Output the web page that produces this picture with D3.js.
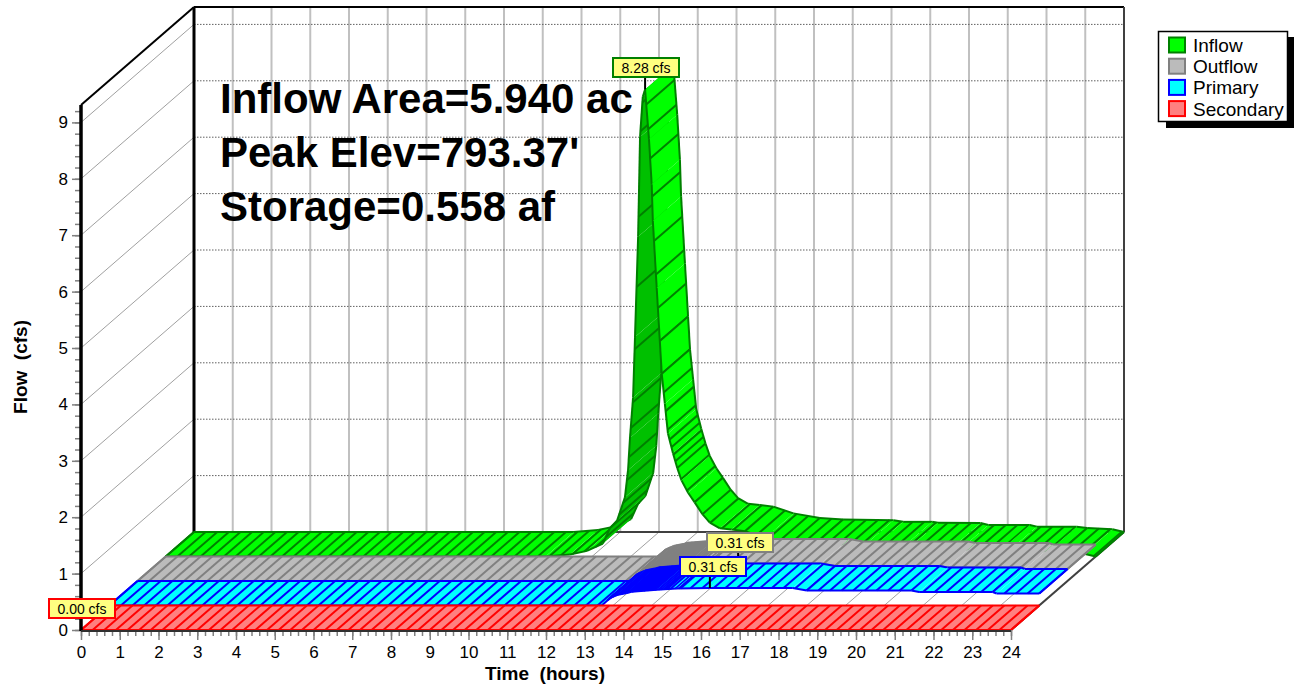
<!DOCTYPE html>
<html>
<head>
<meta charset="utf-8">
<script src="https://cdn.jsdelivr.net/npm/d3@7"></script>
<style>
  body { margin: 0; background: #fff; }
  text { font-family: "Liberation Sans", Arial, sans-serif; white-space: pre; }
</style>
</head>
<body>
<svg id="chart" width="1294" height="686"></svg>
<script>
// flow data, time in hours and flow in cfs
const inflowTime = [0, 9.8, 10.43, 10.87, 11.28, 11.46, 11.65, 11.85, 11.93, 11.98, 12.06, 12.11, 12.19, 12.24, 12.31, 12.37, 12.47, 12.54, 12.57, 12.67, 12.75, 12.8, 12.88, 12.96, 13.09, 13.2, 13.31, 13.48, 13.65, 13.85, 14.04, 14.3, 14.6, 14.95, 15.47, 16.15, 16.75, 18.05, 18.3, 19.05, 19.2, 20.3, 20.5, 21.57, 21.75, 22.78, 23.05, 23.7, 24];
const inflowFlow = [0, 0, 0.035, 0.1, 0.23, 0.5, 0.64, 1.05, 1.53, 2.1, 2.82, 3.89, 5.67, 7.44, 8.15, 8.28, 7.4, 6.6, 5.95, 4.76, 3.82, 3.24, 2.71, 2.18, 1.83, 1.57, 1.35, 1.13, 0.96, 0.75, 0.6, 0.5, 0.48, 0.45, 0.33, 0.25, 0.22, 0.21, 0.18, 0.18, 0.165, 0.16, 0.125, 0.125, 0.095, 0.095, 0.07, 0.05, 0];
const outflowTime = [0, 12.71, 12.92, 13.1, 13.35, 13.48, 14.13, 14.64, 15.5, 17.64, 18, 20.7, 20.9, 22.8, 22.9, 24];
const outflowFlow = [0, 0, 0.13, 0.185, 0.22, 0.245, 0.28, 0.3, 0.31, 0.31, 0.265, 0.265, 0.24, 0.24, 0.213, 0.213];
const primaryTime = [0, 12.71, 12.92, 13.1, 13.35, 13.48, 14.13, 14.64, 15.5, 17.64, 18, 20.7, 20.9, 22.8, 22.9, 24];
const primaryFlow = [0, 0, 0.13, 0.185, 0.22, 0.245, 0.28, 0.3, 0.31, 0.31, 0.265, 0.265, 0.24, 0.24, 0.213, 0.213];
const secondaryTime = [0, 24];
const secondaryFlow = [0, 0];

const seriesNames = ["Inflow", "Outflow", "Primary", "Secondary"];
const seriesFill = ["#00ff00", "#bbbbbb", "#00ffff", "#ff8080"];
const seriesDark = ["#00c000", "#8c8c8c", "#00c0c0", "#c06060"];
const seriesLine = ["#008000", "#808080", "#0000ff", "#ff0000"];
const peakLabels = ["8.28 cfs", "0.31 cfs", "0.31 cfs", "0.00 cfs"];
const peakTimes = [12.37, 15.5, 15.5, 0];
const peakFlows = [8.28, 0.31, 0.31, 0];
const noteLines = ["Inflow Area=5.940 ac", "Peak Elev=793.37'", "Storage=0.558 af"];

const hourTicks = d3.range(0, 25);
const flowTicks = d3.range(0, 10);

const svg = d3.select("#chart");
const x = d3.scaleLinear().domain([0, 24]).range([81, 1011]);
const y = d3.scaleLinear().domain([0, 9]).range([630, 122.4]);
const yTop = 9.31;
// depth goes from 0 at the front wall to 4 at the back wall, one unit per series
const depthX = d3.scaleLinear().domain([0, 4]).range([0, 113]);
const depthY = d3.scaleLinear().domain([0, 4]).range([0, -98]);
const px = (t, d) => x(t) + depthX(d);
const py = (v, d) => y(v) + depthY(d);

function line(g, x1, y1, x2, y2, stroke, w, dash) {
  return g.append("line")
    .attr("x1", x1).attr("y1", y1).attr("x2", x2).attr("y2", y2)
    .attr("stroke", stroke).attr("stroke-width", w)
    .attr("stroke-dasharray", dash || null);
}

// walls and floor
const grid = svg.append("g");
hourTicks.slice(1).forEach((h) => {
  line(grid, px(h, 4), py(yTop, 4), px(h, 4), py(0, 4), "#c0c0c0", 2);
  line(grid, px(h, 0), py(0, 0), px(h, 4), py(0, 4), "#a0a0a0", 1);
});
line(grid, px(0, 0), py(0, 0), px(0, 4), py(0, 4), "#a0a0a0", 1);
flowTicks.slice(1).forEach((f) => {
  line(grid, px(0, 4), py(f, 4), px(24, 4), py(f, 4), "#606060", 1, "1.5 1.5");
  line(grid, px(0, 0), py(f, 0), px(0, 4), py(f, 4), "#a0a0a0", 1);
});
line(grid, px(0, 0), py(yTop, 0), px(0, 4), py(yTop, 4), "#000", 2);
line(grid, px(0, 4), py(yTop, 4), px(24, 4), py(yTop, 4), "#000", 2);
line(grid, px(0, 4), py(yTop, 4), px(0, 4), py(0, 4), "#000", 3);
line(grid, px(24, 4), py(yTop, 4), px(24, 4), py(0, 4), "#404040", 2);
line(grid, px(0, 4), py(0, 4), px(24, 4), py(0, 4), "#404040", 2);
line(grid, px(24, 0), py(0, 0), px(24, 4), py(0, 4), "#404040", 2);

// one ribbon per series, painted back to front and left to right
function drawRibbon(i, times, flows, dense) {
  const front = 3 - i;
  const back = 4 - i;
  const g = svg.append("g");
  const flowAt = d3.scaleLinear().domain(times).range(flows);

  // hatch every 0.3 hr on the flat, every time step where the curve is steep
  const hatchTimes = [];
  let run = 0;
  let prev = [px(0, front), py(0, front)];
  d3.range(0, 24.001, 0.05).forEach((t, k) => {
    const p = [px(t, front), py(flowAt(t), front)];
    const step = Math.hypot(p[0] - prev[0], p[1] - prev[1]);
    run += step;
    prev = p;
    if (k === 0 || run >= 11.5 || step >= 6.5) {
      hatchTimes.push(t);
      run = 0;
    }
  });
  if (dense) dense.forEach((t) => hatchTimes.push(t));

  times.slice(1).forEach((t2, k) => {
    const t1 = times[k];
    const a = [px(t1, front), py(flows[k], front)];
    const b = [px(t2, front), py(flows[k + 1], front)];
    const c = [px(t2, back), py(flows[k + 1], back)];
    const e = [px(t1, back), py(flows[k], back)];
    const dx = b[0] - a[0];
    const dy = b[1] - a[1];
    const under = dx * depthY(1) - dy * depthX(1) > 0;
    g.append("polygon")
      .attr("points", [a, b, c, e].join(" "))
      .attr("fill", under ? seriesDark[i] : seriesFill[i])
      .attr("stroke", "none");
    hatchTimes.filter((h) => h >= t1 && h <= t2).forEach((h) => {
      const v = flowAt(h);
      line(g, px(h, front), py(v, front), px(h, back), py(v, back), seriesLine[i], 2);
    });
    line(g, a[0], a[1], b[0], b[1], seriesLine[i], 2);
    line(g, e[0], e[1], c[0], c[1], seriesLine[i], 2);
  });
  // end caps
  const n = times.length - 1;
  line(g, px(times[0], front), py(flows[0], front), px(times[0], back), py(flows[0], back), seriesLine[i], 2);
  line(g, px(times[n], front), py(flows[n], front), px(times[n], back), py(flows[n], back), seriesLine[i], 2);
}

// the rising limb of the routed flow is nearly solid with hatching
const denseHatch = d3.range(12.85, 14.1, 0.035)
  .concat(d3.range(14.1, 14.35, 0.07))
  .concat(d3.range(14.35, 14.75, 0.13));

drawRibbon(0, inflowTime, inflowFlow);
drawRibbon(1, outflowTime, outflowFlow, denseHatch);
drawRibbon(2, primaryTime, primaryFlow, denseHatch);
drawRibbon(3, secondaryTime, secondaryFlow);

// axes
const xMinor = svg.append("g").attr("transform", "translate(0,630)")
  .call(d3.axisBottom(x).tickValues(d3.range(0, 24.01, 0.2)).tickSize(6).tickFormat(""));
const xMajor = svg.append("g").attr("transform", "translate(0,630)")
  .call(d3.axisBottom(x).tickValues(hourTicks).tickSize(10).tickPadding(6).tickFormat(d3.format("d")));
const yMinor = svg.append("g").attr("transform", "translate(81,0)")
  .call(d3.axisLeft(y).tickValues(d3.range(0, yTop, 0.2)).tickSize(6).tickFormat(""));
const yMajor = svg.append("g").attr("transform", "translate(81,0)")
  .call(d3.axisLeft(y).tickValues(flowTicks).tickSize(9).tickPadding(4).tickFormat(d3.format("d")));
[xMinor, xMajor, yMinor, yMajor].forEach((a) => {
  a.selectAll(".domain").remove();
  a.selectAll(".tick line").attr("stroke", "#808080").attr("stroke-width", 1.5);
  a.selectAll("text").attr("font-size", 17).attr("fill", "#000")
    .style("font-family", '"Liberation Sans", Arial, sans-serif');
});
line(svg, 81, py(yTop, 0), 81, 631, "#000", 3.5);
line(svg, 81, 631, 1011, 631, "#303030", 2);

svg.append("text").attr("x", 545).attr("y", 680).attr("text-anchor", "middle")
  .attr("font-size", 19).attr("font-weight", "bold").text("Time  (hours)");
svg.append("text").attr("transform", "translate(27,367) rotate(-90)").attr("text-anchor", "middle")
  .attr("font-size", 19).attr("font-weight", "bold").text("Flow  (cfs)");

// notes on the back wall
noteLines.forEach((t, i) => {
  svg.append("text").attr("x", 220).attr("y", 113 + i * 54)
    .attr("font-size", 42).attr("font-weight", "bold").text(t);
});

// peak labels with their stems
const labelBoxes = [[612, 57], [706, 532], [679, 556], [48, 598]];
peakLabels.forEach((label, i) => {
  const d = 3 - i;
  const [bx, by] = labelBoxes[i];
  if (i < 3) {
    const sx = px(peakTimes[i], d);
    line(svg, sx, by + 10, sx, py(peakFlows[i], d), "#000", 2);
  }
  svg.append("rect").attr("x", bx + 1).attr("y", by + 1).attr("width", 66).attr("height", 19)
    .attr("fill", "#ffff80").attr("stroke", seriesLine[i]).attr("stroke-width", 2);
  svg.append("text").attr("x", bx + 34).attr("y", by + 15.5).attr("text-anchor", "middle")
    .attr("font-size", 14).attr("fill", "#000").text(label);
});

// legend
const legend = svg.append("g");
legend.append("rect").attr("x", 1166).attr("y", 37).attr("width", 128).attr("height", 91).attr("fill", "#000");
legend.append("rect").attr("x", 1158.5).attr("y", 31.5).attr("width", 129).attr("height", 90)
  .attr("fill", "#fff").attr("stroke", "#000").attr("stroke-width", 1.5);
seriesNames.forEach((name, i) => {
  const ly = 37.5 + i * 21.2;
  legend.append("rect").attr("x", 1169).attr("y", ly).attr("width", 16).attr("height", 15)
    .attr("fill", seriesFill[i]).attr("stroke", seriesLine[i]).attr("stroke-width", 2);
  legend.append("text").attr("x", 1193).attr("y", ly + 14.5).attr("font-size", 19).text(name);
});
</script>
</body>
</html>
